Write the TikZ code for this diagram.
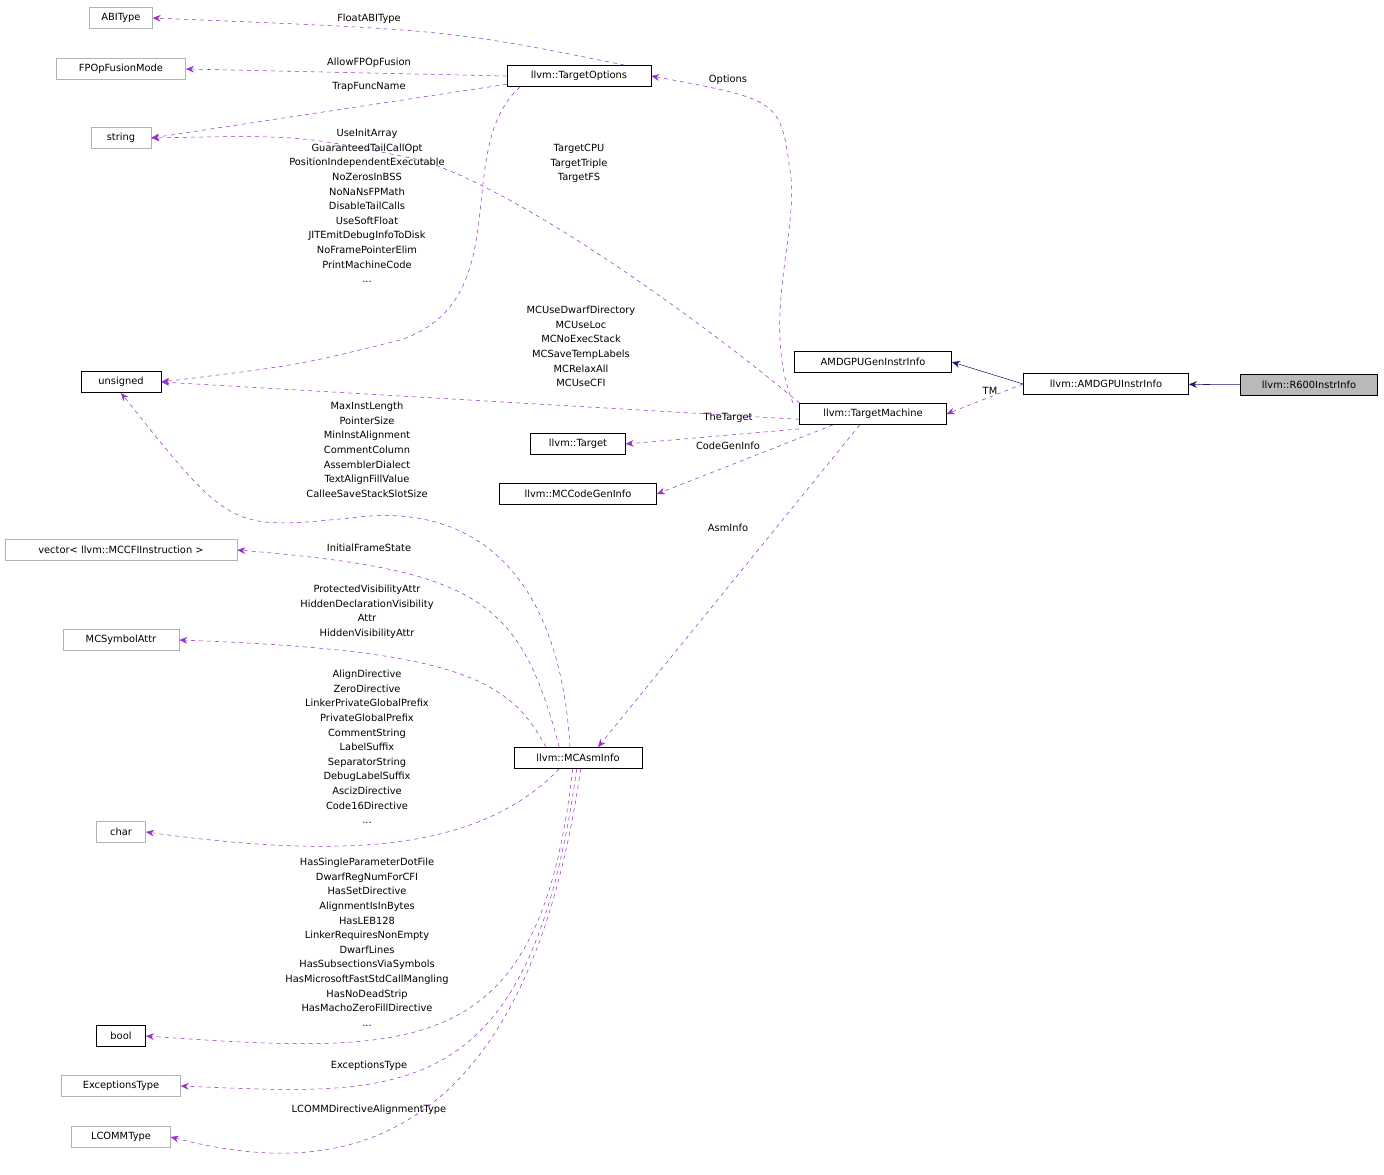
\documentclass[tikz,border=0pt]{standalone}
\usepackage{fontspec}
\setmainfont{DejaVu Sans}
\usetikzlibrary{arrows.meta}
\definecolor{mem}{HTML}{9A32CD}
\definecolor{inh}{HTML}{191970}
\begin{document}
\begin{tikzpicture}[x=0.75pt,y=-0.75pt,
  cls/.style={draw=black,fill=white,inner sep=2pt,minimum height=16pt,font=\fontsize{7.4}{9}\selectfont},
  ext/.style={cls,draw=gray!60},
  me/.style={draw=mem,dashed,-{Stealth[length=6pt,width=5pt]}},
  ih/.style={draw=inh,-{Stealth[length=6pt,width=5pt]}},
  lbl/.style={font=\fontsize{7.4}{10.95}\selectfont,align=center,inner sep=0pt}]
\useasboundingbox (0,0) rectangle (1384,1174);
\node[ext,minimum width=47pt] (abi) at (121,18) {ABIType};
\node[ext,minimum width=97pt] (fpo) at (121,69) {FPOpFusionMode};
\node[ext,minimum width=45pt] (str) at (121,138) {string};
\node[cls,minimum width=60pt] (uns) at (121,382) {unsigned};
\node[ext,minimum width=174pt] (vec) at (121,550) {vector< llvm::MCCFIInstruction >};
\node[ext,minimum width=87pt] (sym) at (121,640) {MCSymbolAttr};
\node[ext,minimum width=37pt] (chr) at (121,832) {char};
\node[cls,minimum width=37pt] (bool) at (121,1036) {bool};
\node[ext,minimum width=89pt] (exc) at (121,1086) {ExceptionsType};
\node[ext,minimum width=74pt] (lcm) at (121,1137) {LCOMMType};
\node[cls,minimum width=108pt] (to) at (579,76) {llvm::TargetOptions};
\node[cls,minimum width=118pt] (gen) at (873,362) {AMDGPUGenInstrInfo};
\node[cls,minimum width=124pt] (ai) at (1106,384) {llvm::AMDGPUInstrInfo};
\node[cls,minimum width=103pt,fill=gray!55] (r6) at (1309,385) {llvm::R600InstrInfo};
\node[cls,minimum width=110pt] (tm) at (873,414) {llvm::TargetMachine};
\node[cls,minimum width=71pt] (tg) at (578,444) {llvm::Target};
\node[cls,minimum width=118pt] (cg) at (578,494) {llvm::MCCodeGenInfo};
\node[cls,minimum width=96pt] (asm) at (578,758) {llvm::MCAsmInfo};

\draw[ih] (r6) -- (ai);
\draw[ih] (ai.west) -- (gen.east);
\draw[me] (ai.west) -- (tm.east);
\draw[me] ([xshift=-20pt]to.north east) .. controls (450,30) .. (abi.east);
\draw[me] (to.west) -- (fpo.east);
\draw[me] ([yshift=2pt]to.south west) -- (str.east);
\draw[me] ([xshift=10pt]to.south west) .. controls (450,150) and (520,300) .. (400,340) .. controls (300,365) .. (uns.east);
\draw[me] ([xshift=-55pt]tm.north) .. controls (700,320) and (520,190) .. (420,160) .. controls (300,135) .. (str.east);
\draw[me] ([xshift=-60pt]tm.north) .. controls (760,320) and (800,230) .. (790,170) .. controls (780,100) .. (to.east);
\draw[me] ([yshift=-4pt]tm.west) -- (uns.east);
\draw[me] ([yshift=-3pt]tm.south west) -- (tg.east);
\draw[me] ([xshift=-30pt]tm.south) -- (cg.east);
\draw[me] ([xshift=-10pt]tm.south) -- ([xshift=15pt]asm.north);
\draw[me] ([xshift=-6pt]asm.north) .. controls (560,580) and (480,500) .. (350,518) .. controls (230,530) .. (uns.south);
\draw[me] ([xshift=-14pt]asm.north) .. controls (520,600) and (480,570) .. (vec.east);
\draw[me] ([xshift=-24pt]asm.north) .. controls (510,680) and (460,650) .. (sym.east);
\draw[me] ([xshift=-14pt]asm.south) .. controls (480,850) and (350,860) .. (chr.east);
\draw[me] ([xshift=-4pt]asm.south) .. controls (540,1060) and (420,1055) .. (bool.east);
\draw[me] ([xshift=-1pt]asm.south) .. controls (530,1110) and (400,1095) .. (exc.east);
\draw[me] ([xshift=2pt]asm.south) .. controls (520,1190) and (300,1170) .. (lcm.east);

\node[lbl] at (369,19) {FloatABIType};
\node[lbl] at (369,63) {AllowFPOpFusion};
\node[lbl,anchor=north] at (367,129) {UseInitArray\\GuaranteedTailCallOpt\\PositionIndependentExecutable\\NoZerosInBSS\\NoNaNsFPMath\\DisableTailCalls\\UseSoftFloat\\JITEmitDebugInfoToDisk\\NoFramePointerElim\\PrintMachineCode\\...};
\node[lbl] at (369,87) {TrapFuncName};
\node[lbl,anchor=north] at (579,144) {TargetCPU\\TargetTriple\\TargetFS};
\node[lbl] at (728,80) {Options};
\node[lbl,anchor=north] at (581,306) {MCUseDwarfDirectory\\MCUseLoc\\MCNoExecStack\\MCSaveTempLabels\\MCRelaxAll\\MCUseCFI};
\node[lbl] at (990,391) {TM};
\node[lbl] at (728,418) {TheTarget};
\node[lbl] at (728,446) {CodeGenInfo};
\node[lbl] at (728,528) {AsmInfo};
\node[lbl,anchor=north] at (367,402) {MaxInstLength\\PointerSize\\MinInstAlignment\\CommentColumn\\AssemblerDialect\\TextAlignFillValue\\CalleeSaveStackSlotSize};
\node[lbl] at (369,548) {InitialFrameState};
\node[lbl,anchor=north] at (367,585) {ProtectedVisibilityAttr\\HiddenDeclarationVisibility\\Attr\\HiddenVisibilityAttr};
\node[lbl,anchor=north] at (367,670) {AlignDirective\\ZeroDirective\\LinkerPrivateGlobalPrefix\\PrivateGlobalPrefix\\CommentString\\LabelSuffix\\SeparatorString\\DebugLabelSuffix\\AscizDirective\\Code16Directive\\...};
\node[lbl,anchor=north] at (367,858) {HasSingleParameterDotFile\\DwarfRegNumForCFI\\HasSetDirective\\AlignmentIsInBytes\\HasLEB128\\LinkerRequiresNonEmpty\\DwarfLines\\HasSubsectionsViaSymbols\\HasMicrosoftFastStdCallMangling\\HasNoDeadStrip\\HasMachoZeroFillDirective\\...};
\node[lbl] at (369,1066) {ExceptionsType};
\node[lbl] at (369,1110) {LCOMMDirectiveAlignmentType};
\end{tikzpicture}
\end{document}
